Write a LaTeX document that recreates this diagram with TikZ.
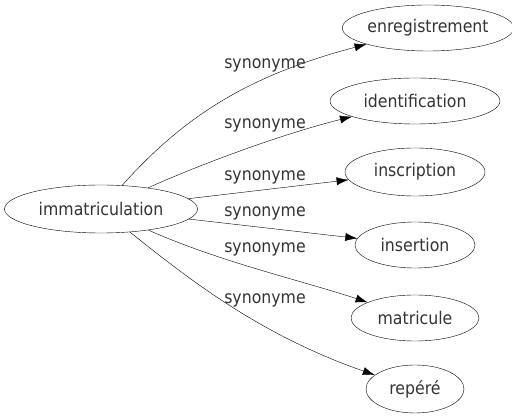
\documentclass[tikz,border=0pt]{standalone}
\usepackage{fontspec}
\setmainfont[FakeStretch=0.9]{DejaVu Sans}
\usetikzlibrary{arrows.meta,shapes.geometric}

\begin{document}
\begin{tikzpicture}[x=1pt,y=-1pt,
	every node/.style={font=\fontsize{17.5}{20}\selectfont, text=black!80},
	word/.style={ellipse, draw, inner sep=0pt},
	syn/.style={-{Latex[length=12pt,width=8pt]}}]
	\useasboundingbox (0,0) rectangle (512,419);

	% Words
	\node[word, minimum width=193, minimum height=48] (imm) at (101,209) {immatriculation};
	\node[word, minimum width=158, minimum height=46] (enr) at (428,28) {enregistrement};
	\node[word, minimum width=170, minimum height=46] (ide) at (415,101) {identification};
	\node[word, minimum width=140, minimum height=48] (ins) at (415,172) {inscription};
	\node[word, minimum width=120, minimum height=46] (inr) at (415,245) {insertion};
	\node[word, minimum width=128, minimum height=46] (mat) at (415,318) {matricule};
	\node[word, minimum width=98, minimum height=48] (rep) at (415,389) {repéré};

	% Edges
	\draw[syn] (imm) .. controls (185,115) and (250,75) .. (enr);
	\draw[syn] (imm) .. controls (210,160) and (290,132) .. (ide);
	\draw[syn] (imm) -- (ins);
	\draw[syn] (imm) -- (inr);
	\draw[syn] (imm) .. controls (220,262) and (300,280) .. (mat);
	\draw[syn] (imm) .. controls (190,280) and (260,335) .. (rep);

	% Edge labels
	\node (s1) at (265,65) {synonyme};
	\node (s2) at (265,125) {synonyme};
	\node (s3) at (265,177) {synonyme};
	\node (s4) at (265,213) {synonyme};
	\node (s5) at (265,249) {synonyme};
	\node (s6) at (265,300) {synonyme};
\end{tikzpicture}
\end{document}
